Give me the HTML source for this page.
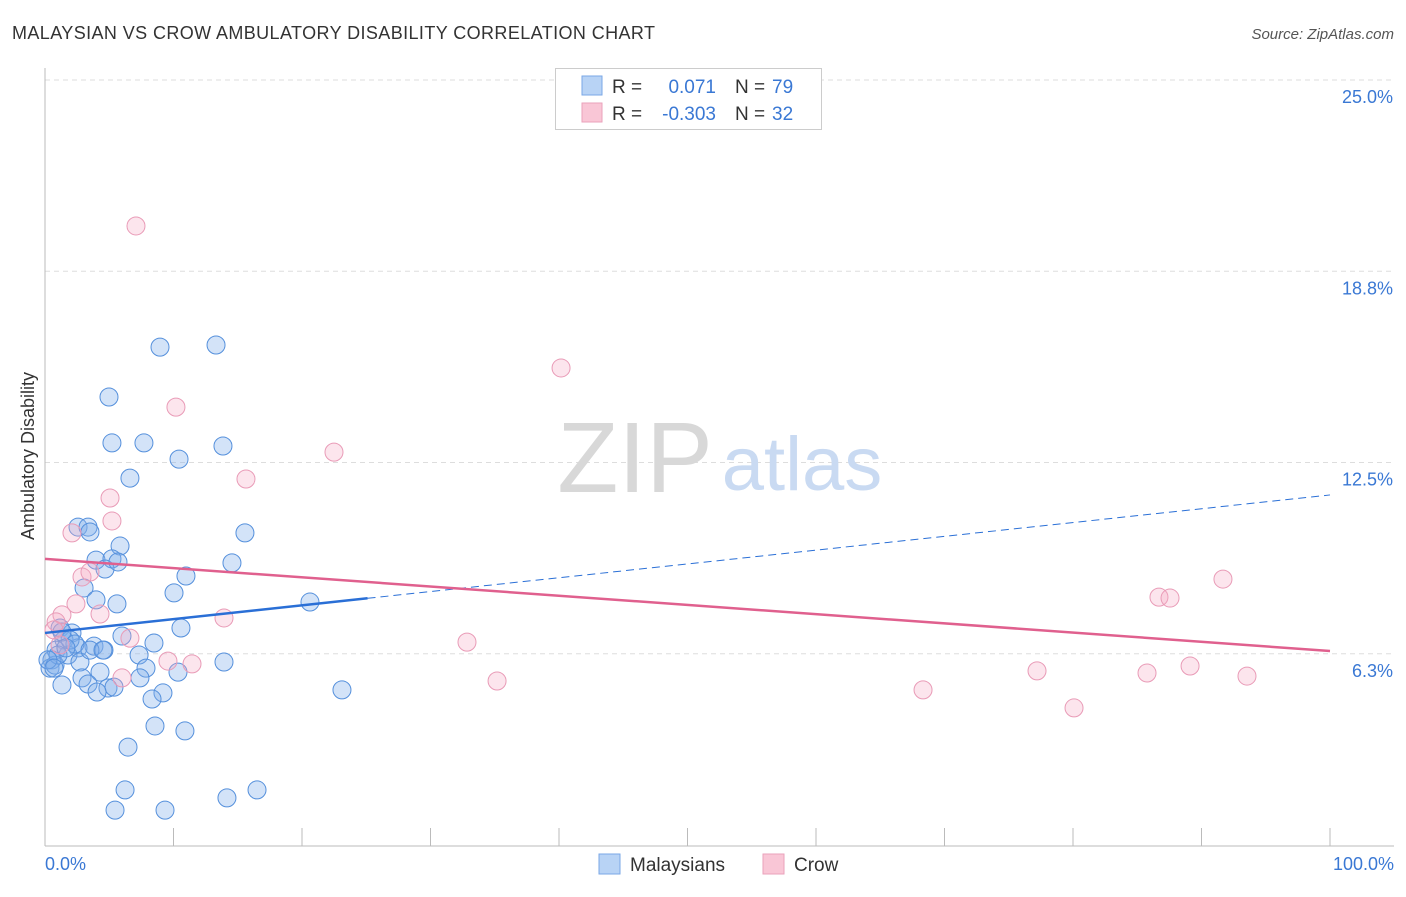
<!DOCTYPE html>
<html><head><meta charset="utf-8"><style>
body{margin:0;background:#fff;font-family:"Liberation Sans",sans-serif;}
svg text{font-family:"Liberation Sans",sans-serif;}
</style></head><body>
<svg id="chart" width="1406" height="892" xmlns="http://www.w3.org/2000/svg">
<text x="12" y="39" font-size="18" fill="#333" textLength="643" lengthAdjust="spacing">MALAYSIAN VS CROW AMBULATORY DISABILITY CORRELATION CHART</text>
<text x="1394" y="39" font-size="15" fill="#555" font-style="italic" text-anchor="end">Source: ZipAtlas.com</text>
<g id="grid"></g>
<g>
<text x="635" y="492" font-size="100" font-family="Liberation Serif" fill="#d8d8d8" text-anchor="middle">ZIP</text>
<text x="802" y="490" font-size="76" fill="#c9daf2" text-anchor="middle">atlas</text>
</g>
<line x1="45" y1="68" x2="45" y2="846" stroke="#bbb"/>
<line x1="45" y1="846" x2="1394" y2="846" stroke="#bbb"/>
<g id="xticks"></g>
<text x="45" y="870" font-size="18" fill="#3a78d4">0.0%</text>
<text x="1394" y="870" font-size="18" fill="#3a78d4" text-anchor="end">100.0%</text>
<text transform="translate(34,456) rotate(-90)" font-size="18" fill="#333" text-anchor="middle">Ambulatory Disability</text>
<g id="pts"></g>
<g id="trends"></g>
<g>
<rect x="555.5" y="68.5" width="266" height="61" fill="#fff" stroke="#ccc"/>
<rect x="582" y="76" width="20" height="19" fill="#b8d3f5" stroke="#7aa7e6"/>
<rect x="582" y="103" width="20" height="19" fill="#f9c6d6" stroke="#eaa2bb"/>
<text x="612" y="93" font-size="19" fill="#333">R =</text>
<text x="716" y="93" font-size="19" fill="#3a78d4" text-anchor="end">0.071</text>
<text x="735" y="93" font-size="19" fill="#333">N =</text>
<text x="772" y="93" font-size="19" fill="#3a78d4">79</text>
<text x="612" y="120" font-size="19" fill="#333">R =</text>
<text x="716" y="120" font-size="19" fill="#3a78d4" text-anchor="end">-0.303</text>
<text x="735" y="120" font-size="19" fill="#333">N =</text>
<text x="772" y="120" font-size="19" fill="#3a78d4">32</text>
</g>
<g>
<rect x="599" y="854" width="21" height="20" fill="#b8d3f5" stroke="#7aa7e6"/>
<text x="630" y="871" font-size="19" fill="#333">Malaysians</text>
<rect x="763" y="854" width="21" height="20" fill="#f9c6d6" stroke="#eaa2bb"/>
<text x="794" y="871" font-size="19" fill="#333">Crow</text>
</g>
</svg>
<script>
const yTicks=[6.25,12.5,18.75,25];
const yTickLabels=["6.3%","12.5%","18.8%","25.0%"];
const xTicks=[0,10,20,30,40,50,60,70,80,90,100];
const blueX=[8.95,13.31,4.98,5.21,7.70,13.85,10.43,6.61,2.57,3.35,3.50,15.56,5.84,3.97,5.21,4.67,14.55,10.97,3.04,10.04,3.97,5.60,20.62,10.58,5.99,8.48,1.17,2.10,1.48,3.81,4.59,2.57,0.86,1.79,0.54,0.39,2.72,7.32,7.86,13.93,10.35,4.28,2.88,7.39,1.32,3.35,4.90,5.37,4.05,9.18,8.33,23.11,8.56,10.89,6.46,6.23,16.50,14.16,5.45,9.34,0.78,1.01,0.23,0.70,1.95,1.32,2.33,1.63,3.50,5.68,4.51];
const blueY=[16.27,16.34,14.64,13.14,13.14,13.04,12.61,11.99,10.39,10.39,10.23,10.20,9.77,9.31,9.35,9.02,9.22,8.79,8.40,8.24,8.01,7.88,7.94,7.09,6.83,6.60,7.09,6.93,6.70,6.50,6.37,6.44,6.37,6.21,6.05,5.78,5.98,6.21,5.78,5.98,5.65,5.65,5.46,5.46,5.23,5.26,5.13,5.16,5.00,4.97,4.77,5.07,3.89,3.73,3.20,1.80,1.80,1.54,1.14,1.14,5.88,6.21,6.05,5.78,6.70,6.96,6.57,6.44,6.37,9.25,6.37];
const pinkX=[7.08,40.16,10.19,22.49,15.64,5.06,5.21,2.10,2.88,3.50,2.41,4.28,13.93,1.32,0.86,6.61,32.84,9.57,11.44,5.99,35.18,68.33,77.20,80.08,85.76,89.11,93.54,86.69,87.55,91.67,0.70,1.17];
const pinkY=[20.23,15.59,14.31,12.84,11.96,11.34,10.59,10.20,8.76,8.92,7.88,7.55,7.42,7.52,7.29,6.76,6.63,6.01,5.92,5.46,5.36,5.07,5.69,4.48,5.62,5.85,5.52,8.10,8.07,8.69,7.03,6.54];
const blueTrend=[6.93,11.44]; const blueSolidEnd=25.1;
const pinkTrend=[9.35,6.34];
const NS="http://www.w3.org/2000/svg";
const sx=v=>45+v*12.85, sy=v=>845-v*30.6;
function mk(tag,attrs,parent){const e=document.createElementNS(NS,tag);for(const k in attrs)e.setAttribute(k,attrs[k]);parent.appendChild(e);return e;}
const grid=document.getElementById('grid');
yTicks.forEach((t,i)=>{
 const l=mk('line',{x1:45,x2:1394,y1:sy(t),y2:sy(t),stroke:'#ddd','stroke-dasharray':'5,4'},grid);
 
 
 const tx=mk('text',{x:1393,y:sy(t)+23,'font-size':18,fill:'#3a78d4','text-anchor':'end'},grid);
 tx.textContent=yTickLabels[i];
 
 
});
const xt=document.getElementById('xticks');
xTicks.forEach(t=>{const l=mk('line',{x1:sx(t),x2:sx(t),y1:828,y2:846,stroke:'#bbb'},xt);
 
 });
const pts=document.getElementById('pts');
blueX.forEach((x,i)=>{const c=mk('circle',{cx:sx(x),cy:sy(blueY[i]),r:9,fill:'rgba(130,175,235,0.35)',stroke:'#5590dc','stroke-width':1},pts);
 
 });
pinkX.forEach((x,i)=>{const c=mk('circle',{cx:sx(x),cy:sy(pinkY[i]),r:9,fill:'rgba(245,170,195,0.3)',stroke:'#e99bb7','stroke-width':1},pts);
 
 });
const tr=document.getElementById('trends');
const by=x=>blueTrend[0]+(blueTrend[1]-blueTrend[0])*x/100;
let l1=mk('line',{x1:sx(0),y1:sy(by(0)),x2:sx(blueSolidEnd),y2:sy(by(blueSolidEnd)),stroke:'#2a6fd6','stroke-width':2.5},tr);


let l2=mk('line',{x1:sx(blueSolidEnd),y1:sy(by(blueSolidEnd)),x2:sx(100),y2:sy(by(100)),stroke:'#2a6fd6','stroke-width':1,'stroke-dasharray':'8,5'},tr);


let l3=mk('line',{x1:sx(0),y1:sy(pinkTrend[0]),x2:sx(100),y2:sy(pinkTrend[1]),stroke:'#e0608e','stroke-width':2.5},tr);


</script>
</body></html>
